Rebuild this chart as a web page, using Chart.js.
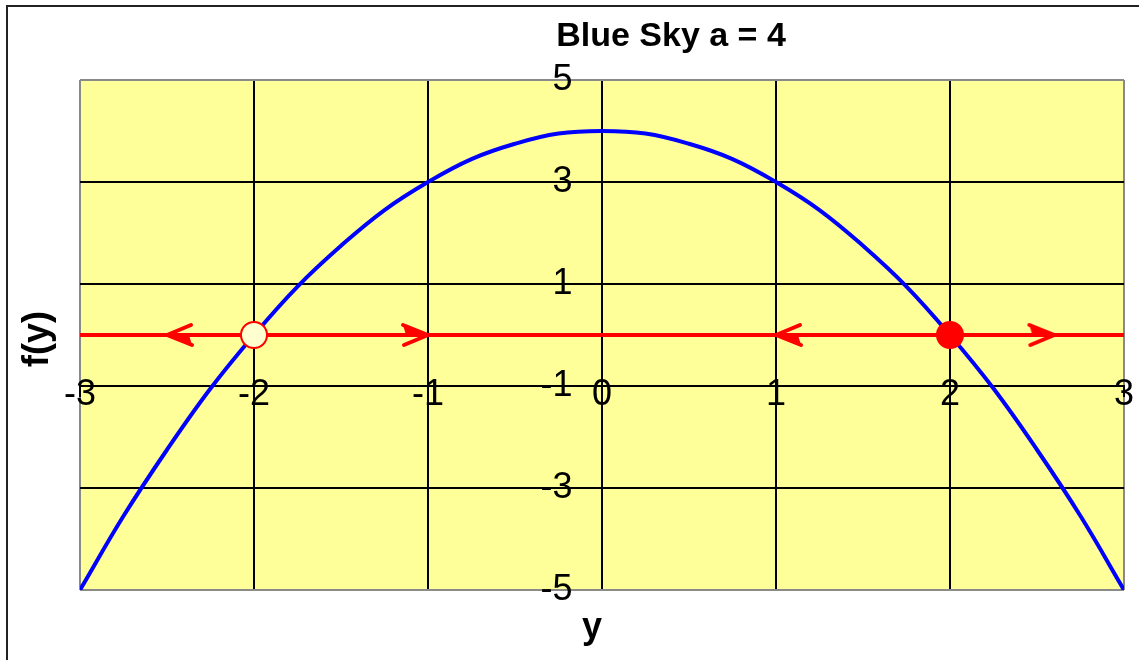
<!DOCTYPE html>
<html>
<head>
<meta charset="utf-8">
<title>Blue Sky a = 4</title>
<script src="https://cdn.jsdelivr.net/npm/chart.js@4.4.0/dist/chart.umd.min.js"></script>
<style>
    html, body { margin: 0; padding: 0; background: #fff; }
    #wrap { width: 1139px; height: 660px; }
</style>
</head>
<body>
<div id="wrap"><canvas id="skyChart" width="1139" height="660"></canvas></div>
<script>
// Values
const curveY = [-3, -2.75, -2.5, -2.25, -2, -1.75, -1.5, -1.25, -1, -0.75, -0.5, -0.25, 0,
                0.25, 0.5, 0.75, 1, 1.25, 1.5, 1.75, 2, 2.25, 2.5, 2.75, 3];
const curveF = [-5, -3.55, -2.25, -1.05, 0, 0.95, 1.75, 2.45, 3, 3.45, 3.75, 3.95, 4,
                3.95, 3.75, 3.45, 3, 2.45, 1.75, 0.95, 0, -1.05, -2.25, -3.55, -5];
const phaseLineY = [-3, 3];
const phaseLineF = [0, 0];
const arrowY = [-2.5, -1, 1, 2.6];
const arrowF = [0, 0, 0, 0];
const arrowDir = ['left', 'right', 'left', 'right'];
const equilY = [-2, 2];
const equilF = [0, 0];
const equilKind = ['unstable', 'stable'];
const yTickValues = [5, 3, 1, -1, -3, -5];

const BG_YELLOW = '#FFFF99';
const LABEL_FONT = 'Liberation Sans, Arial, sans-serif';

function toPoints(xs, ys) {
    return xs.map((x, i) => ({ x: x, y: ys[i] }));
}

// Red chevron arrowhead, tip at the centre of the canvas (points left)
function makeArrow() {
    const c = document.createElement('canvas');
    c.width = 60;
    c.height = 30;
    const g = c.getContext('2d');
    g.strokeStyle = '#FF0000';
    g.fillStyle = '#FF0000';
    g.lineCap = 'round';
    g.lineWidth = 4;
    g.beginPath();
    g.moveTo(30, 15);
    g.lineTo(54, 5);
    g.stroke();
    g.beginPath();
    g.moveTo(30, 15);
    g.lineTo(55, 25);
    g.lineTo(52, 15);
    g.closePath();
    g.fill();
    g.beginPath();
    g.moveTo(30, 15);
    g.lineTo(55, 25);
    g.stroke();
    return c;
}
const arrowImg = makeArrow();

// Page background, outer frame, plot fill and the text titles
const framePlugin = {
    id: 'framePlugin',
    beforeDraw(chart) {
        const ctx = chart.ctx;
        const a = chart.chartArea;
        ctx.save();
        ctx.fillStyle = '#fff';
        ctx.fillRect(0, 0, chart.width, chart.height);
        ctx.strokeStyle = '#222';
        ctx.lineWidth = 2;
        ctx.strokeRect(7, 6, chart.width + 10, chart.height + 10);
        ctx.fillStyle = BG_YELLOW;
        ctx.fillRect(a.left, a.top, a.right - a.left, a.bottom - a.top);
        ctx.restore();
    },
    afterDraw(chart) {
        const ctx = chart.ctx;
        ctx.save();
        ctx.fillStyle = '#000';
        ctx.textAlign = 'center';
        ctx.textBaseline = 'middle';
        ctx.font = 'bold 34px ' + LABEL_FONT;
        ctx.fillText('Blue Sky a = 4', 671, 37);
        ctx.font = 'bold 36px ' + LABEL_FONT;
        ctx.fillText('y', 592, 628);
        ctx.translate(38, 339);
        ctx.rotate(-Math.PI / 2);
        ctx.fillText('f(y)', 0, 0);
        ctx.restore();
    }
};

function edgeColor(ctx, lo, hi) {
    const v = ctx.tick ? ctx.tick.value : null;
    return (v === lo || v === hi) ? '#8a8a8a' : '#000';
}

document.addEventListener('DOMContentLoaded', function() {
    const canvas = document.getElementById('skyChart');
    new Chart(canvas.getContext('2d'), {
        type: 'scatter',
        data: {
            datasets: [
                {
                    label: 'equilibria',
                    data: toPoints(equilY, equilF),
                    pointRadius: 13,
                    pointBorderWidth: 2,
                    pointBorderColor: '#FF0000',
                    pointBackgroundColor: equilKind.map(k => k === 'stable' ? '#FF0000' : '#FFFFD0'),
                    order: 0
                },
                {
                    label: 'arrows',
                    data: toPoints(arrowY, arrowF),
                    pointStyle: arrowImg,
                    pointRotation: arrowDir.map(d => d === 'left' ? 0 : 180),
                    order: 1
                },
                {
                    label: 'phase line',
                    data: toPoints(phaseLineY, phaseLineF),
                    showLine: true,
                    borderColor: '#FF0000',
                    borderWidth: 4,
                    pointRadius: 0,
                    order: 2
                },
                {
                    label: 'f(y)',
                    data: toPoints(curveY, curveF),
                    showLine: true,
                    borderColor: '#0000FF',
                    borderWidth: 4,
                    pointRadius: 0,
                    tension: 0.4,
                    order: 3
                }
            ]
        },
        options: {
            responsive: false,
            animation: false,
            events: [],
            layout: { padding: { left: 80, top: 80, right: 14, bottom: 70 } },
            plugins: {
                legend: { display: false },
                tooltip: { enabled: false },
                title: { display: false }
            },
            scales: {
                x: {
                    type: 'linear',
                    min: -3,
                    max: 3,
                    position: { y: -1 },
                    border: { color: '#000', width: 2 },
                    grid: {
                        color: ctx => edgeColor(ctx, -3, 3),
                        lineWidth: 2,
                        tickLength: 10,
                        tickColor: '#000'
                    },
                    ticks: {
                        stepSize: 1,
                        padding: -23,
                        color: '#000',
                        font: { family: LABEL_FONT, size: 36 }
                    }
                },
                y: {
                    type: 'linear',
                    min: -5,
                    max: 5,
                    // labels sit a little left of the y = 0 line, which the x grid draws
                    position: { x: -0.17 },
                    border: { display: false },
                    afterBuildTicks: scale => {
                        scale.ticks = yTickValues.map(v => ({ value: v }));
                    },
                    grid: {
                        color: ctx => edgeColor(ctx, -5, 5),
                        lineWidth: 2,
                        drawTicks: false
                    },
                    ticks: {
                        color: '#000',
                        font: { family: LABEL_FONT, size: 36 }
                    }
                }
            }
        },
        plugins: [framePlugin]
    });
});
</script>
</body>
</html>
